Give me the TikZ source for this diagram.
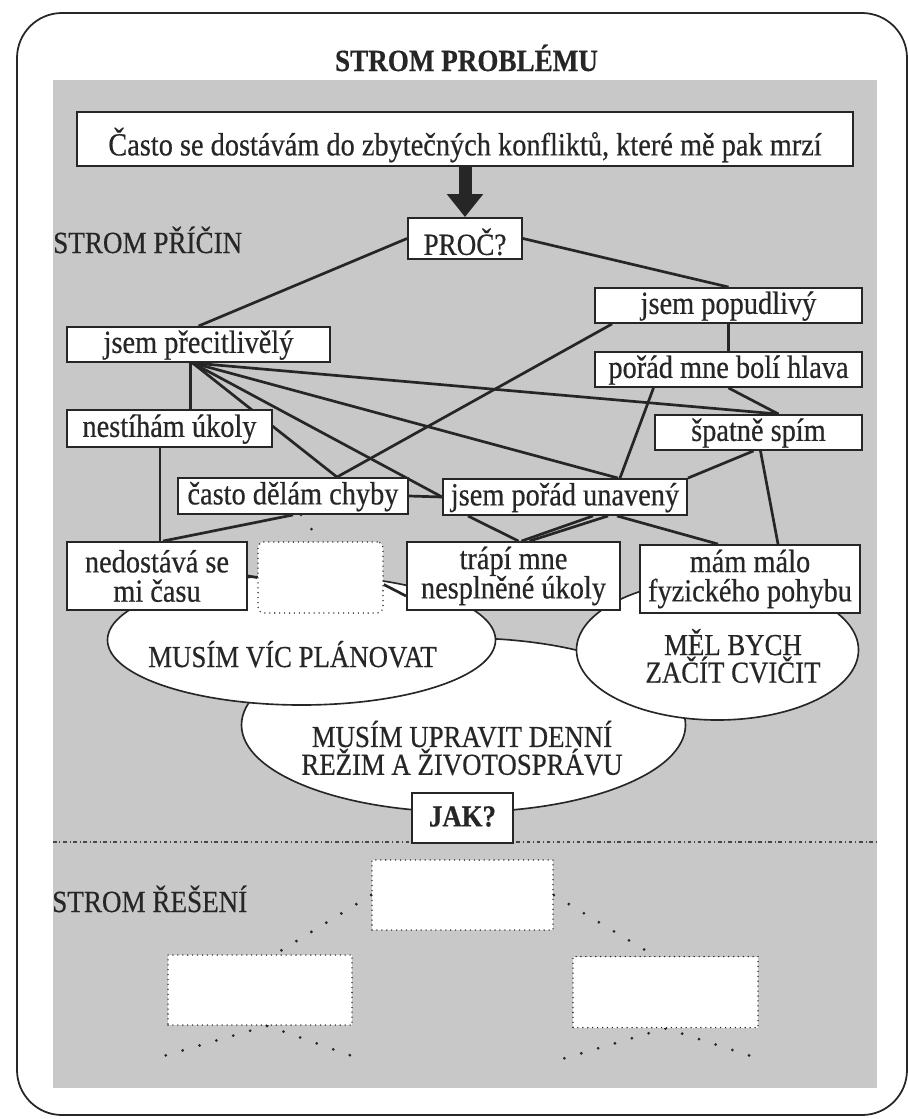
\documentclass[tikz,border=0pt]{standalone}
\usepackage{fontspec}
\setmainfont{Liberation Serif}[FakeStretch=0.88,FakeBold=0.5]
\usetikzlibrary{shapes.geometric,arrows.meta,calc}
\definecolor{ink}{RGB}{38,38,38}
\definecolor{panel}{RGB}{200,200,200}
\pgfdeclarelayer{back}
\pgfdeclarelayer{mid}
\pgfsetlayers{back,mid,main}
\tikzset{
  dims/.style 2 args={minimum width=#1*0.03cm,minimum height=#2*0.03cm},
  box/.style={draw=ink,line width=1.6pt,fill=white,inner sep=0pt,align=center,text=ink,
    font=\fontsize{27.5}{25}\selectfont},
  one/.style={text height=19.8pt,text depth=5.5pt},
  low/.style={text height=31pt,text depth=3pt},
  blank/.style={draw=ink,line width=1.3pt,dash pattern=on 0pt off 4.2pt,line cap=round,
    fill=white,inner sep=0pt},
  bubble/.style={ellipse,draw=ink,line width=1.4pt,fill=white,inner sep=0pt},
  caps/.style={text=ink,align=center,inner sep=0pt,font=\fontsize{26}{22}\selectfont},
  heading/.style={text=ink,inner sep=0pt,font=\fontsize{26.3}{28}\selectfont},
  tie/.style={draw=ink,line width=2.3pt},
  trail/.style={draw=ink,line width=2.6pt,line cap=round,dash pattern=on 0pt off 15pt}
}

\begin{document}
\begin{tikzpicture}[x=0.03cm,y=-0.03cm]
\useasboundingbox (0,0) rectangle (908,1119);

% page, shading and the three ellipses
\begin{pgfonlayer}{back}
  \fill[panel] (53,80) rectangle (877,1088);
  \draw[ink,line width=1.5pt,rounded corners=1.35cm] (17,13) rectangle (907,1115);
  \draw[ink!85,line width=1.1pt,dash pattern=on 3pt off 2.5pt on 0.6pt off 2.5pt] (53,842) -- (877,842);
  \node[bubble,dims={444}{174}] (regime) at (463.5,725) {};
  \node[bubble,dims={388}{130}] (plan) at (301.5,640) {};
  \node[bubble,dims={282}{140}] (sport) at (717.5,650) {};
\end{pgfonlayer}

% headings
\node[heading,anchor=base] (problemTitle) at (466.5,71) {\bfseries STROM PROBLÉMU};
\node[heading,anchor=base west] (causes) at (53,253) {STROM PŘÍČIN};
\node[heading,anchor=base west] (fixes) at (52,912) {STROM ŘEŠENÍ};

% problem tree
\node[box,low,dims={776}{54}] (problem) at (465,139)
  {Často se dostávám do zbytečných konfliktů, které mě pak mrzí};
\node[box,low,dims={114}{41},font=\fontsize{26.3}{28}\selectfont] (why) at (465,238.5) {PROČ?};
\node[box,one,dims={267}{35}] (irrit) at (728.5,305.5) {jsem popudlivý};
\node[box,one,dims={263}{35}] (sens) at (198.5,344.5) {jsem přecitlivělý};
\node[box,one,dims={267}{35}] (head) at (728.5,369.5) {pořád mne bolí hlava};
\node[box,one,dims={205}{37}] (deadline) at (169.5,428.5) {nestíhám úkoly};
\node[box,one,dims={207}{35}] (sleep) at (758.5,432.5) {špatně spím};
\node[box,one,dims={230}{36}] (errors) at (293,496) {často dělám chyby};
\node[box,one,dims={244}{36}] (tired) at (565,497) {jsem pořád unavený};
\node[box,dims={180}{68}] (late) at (157,576) {nedostává se\\mi času};
\node[blank,rounded corners=5pt,dims={125}{71}] (blank) at (320.5,577.5) {};
\node[box,dims={213}{68}] (tasks) at (513.5,576) {trápí mne\\nesplněné úkoly};
\node[box,dims={220}{68}] (move) at (750,579) {mám málo\\fyzického pohybu};

\node[caps,anchor=base] (planText) at (292.5,667) {MUSÍM VÍC PLÁNOVAT};
\node[caps] (sportText) at (733,656) {MĚL BYCH\\ZAČÍT CVIČIT};
\node[caps] (regimeText) at (462,748) {MUSÍM UPRAVIT DENNÍ\\REŽIM A ŽIVOTOSPRÁVU};
\node[box,one,dims={101}{50},font=\fontsize{26}{28}\selectfont\bfseries] (how) at (462.5,818) {JAK?};

\draw[ink,line width=0.39cm,-{Triangle[width=1.05cm,length=0.69cm]}] (problem.south) -- (why.north);

% solution tree
\node[blank,dims={181}{70}] (sol) at (462.5,895) {};
\node[blank,dims={184}{70}] (solL) at (260,990) {};
\node[blank,dims={185}{71}] (solR) at (665.5,992) {};
\coordinate (solLa) at (160,1057);
\coordinate (solLb) at (355,1057);
\coordinate (solRa) at (562,1059);
\coordinate (solRb) at (757,1058);

% connectors
\begin{pgfonlayer}{mid}
  \draw[tie] (why.west) -- (sens.north);
  \draw[tie] (why.east) -- (irrit.north);
  \draw[tie] ($(irrit.south west)+(18,0)$) -- ($(errors.north)+(44,0)$);
  \draw[tie] (irrit.south) -- (head.north);
  \draw[tie] ($(head.south)+(-75,0)$) -- ($(tired.north)+(55,0)$);
  \draw[tie] (head.south) -- ($(sleep.north)+(20,0)$);
  \draw[tie] ($(sleep.south)+(-5,0)$) -- (tired.north east);
  \draw[tie] ($(sleep.south)+(2,0)$) -- ($(move.north)+(28,0)$);
  \coordinate (fan) at ($(sens.south)+(-6,0)$);
  \draw[tie] (fan) -- ($(errors.north)+(44,0)$);
  \draw[tie] (fan) -- (tired.west);
  \draw[tie] (fan) -- ($(tired.north)+(53,0)$);
  \draw[tie] (fan) -- ($(sleep.north)+(20,0)$);
  \coordinate (drop) at ($(sens.south)+(-8,0)$);
  \draw[tie] (drop) -- (drop |- deadline.north);
  \coordinate (drop2) at ($(deadline.south)+(-9.5,0)$);
  \draw[tie] (drop2) -- (drop2 |- late.north);
  \draw[tie] (errors.south) -- ($(late.north)+(6,0)$);
  \draw[tie] (errors.east) -- (tired.west);
  \draw[tie] (late.east) -- (blank.west);
  \draw[tie] ($(blank.east)+(0,7)$) -- ($(tasks.west)+(0,20)$);
  \draw[tie] ($(tired.south)+(-97,0)$) -- ($(tasks.north)+(5,0)$);
  \draw[tie] ($(tired.south)+(28,0)$) -- ($(tasks.north)+(8,0)$);
  \draw[tie] ($(tired.south)+(43,0)$) -- ($(tasks.north)+(16,0)$);
  \draw[tie] ($(tired.south)+(52,0)$) -- ($(move.north)+(-32,0)$);
  \draw[trail] ($(errors.south)+(8,0)$) -- (blank.north);
  \draw[trail] (sol.west) -- ($(solL.north)+(15,0)$);
  \draw[trail] (sol.east) -- ($(solR.north)+(-11,0)$);
  \draw[trail] ($(solL.south)+(7,0)$) -- (solLa);
  \draw[trail] ($(solL.south)+(7,0)$) -- (solLb);
  \draw[trail] (solR.south) -- (solRa);
  \draw[trail] (solR.south) -- (solRb);
\end{pgfonlayer}
\end{tikzpicture}
\end{document}
